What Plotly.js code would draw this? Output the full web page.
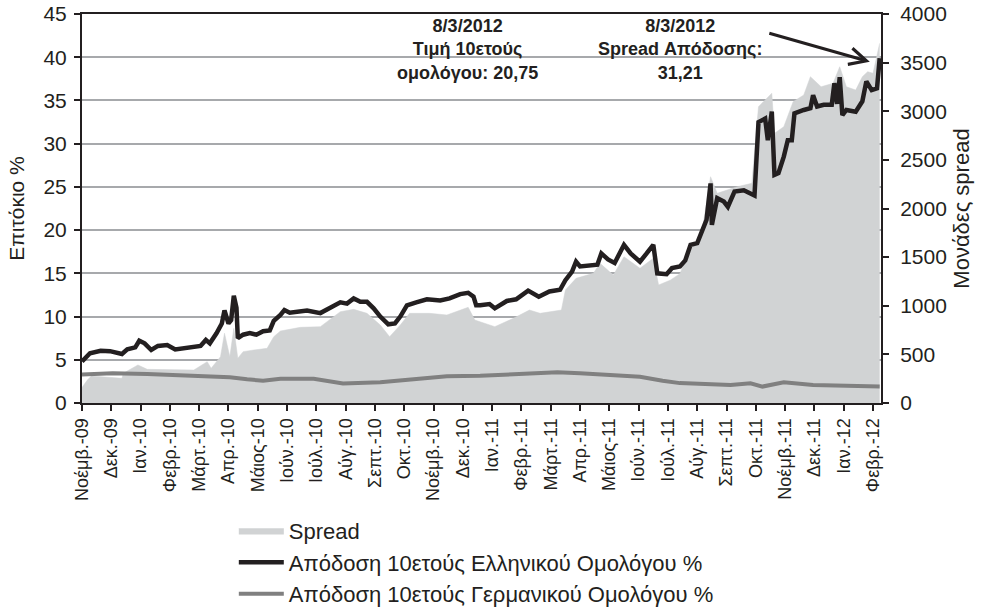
<!DOCTYPE html>
<html>
<head>
<meta charset="utf-8">
<script src="https://cdn.plot.ly/plotly-3.0.1.min.js"></script>
<style>html,body{margin:0;padding:0;background:#fff;}#chart{width:981px;height:609px;}</style>
</head>
<body>
<div id="chart"></div>
<script>
// x = trading-day observation number (category axis, a label every 22 observations)
const monthLabels = ['Νοέμβ.-09','Δεκ.-09','Ιαν.-10','Φεβρ.-10','Μάρτ.-10','Απρ.-10','Μάιος-10','Ιούν.-10','Ιούλ.-10','Αύγ.-10','Σεπτ.-10','Οκτ.-10','Νοέμβ.-10','Δεκ.-10','Ιαν.-11','Φεβρ.-11','Μάρτ.-11','Απρ.-11','Μάιος-11','Ιούν.-11','Ιούλ.-11','Αύγ.-11','Σεπτ.-11','Οκτ.-11','Νοέμβ.-11','Δεκ.-11','Ιαν.-12','Φεβρ.-12'];
const obsPerLabel = 22;
const obsTotal = 600;

// Spread (basis points, right axis)
const spreadObs = [0,4,7,14,24,30,31,42,49,61,71,84,94,97,104,107,111,114,117,121,129,139,144,149,164,179,194,204,214,224,231,239,246,261,274,284,290,295,299,310,324,336,344,360,363,371,384,389,399,407,419,429,433,442,449,457,465,472,477,492,503,508,518,520,527,534,542,547,555,564,569,574,581,586,590,594,599];
const spreadBp = [160,236,278,271,254,254,305,391,346,346,339,339,425,357,476,717,476,768,460,528,545,562,682,740,778,785,939,963,922,802,682,802,922,922,905,956,984,853,836,785,871,956,922,956,1162,1282,1333,1436,1316,1504,1385,1488,1213,1265,1330,1591,1710,2327,2156,2224,2259,3047,3185,2773,2841,3098,3167,3355,3252,3287,3458,3252,3218,3355,3407,3390,3699];

// Greek 10y yield %
const greekObs = [0,6,14,21,30,34,40,43,47,52,57,64,70,76,84,89,93,96,101,105,107,110,112,114,116,117,121,126,131,136,141,144,149,152,156,169,179,186,194,199,204,209,214,219,224,230,235,239,244,251,259,269,276,284,290,294,296,299,306,310,319,326,335,343,351,359,363,368,371,374,382,387,390,395,400,407,412,419,424,429,432,439,443,449,453,457,462,465,469,472,473,477,482,485,490,497,503,505,508,513,515,518,520,523,527,530,533,535,542,547,549,552,557,563,565,567,569,571,574,581,586,589,593,597,599];
const greekYield = [4.8,5.75,6.05,6.0,5.67,6.2,6.44,7.2,6.9,6.13,6.6,6.7,6.2,6.3,6.5,6.6,7.3,6.9,8.06,9.2,10.7,9.2,9.6,12.4,11.0,7.5,7.9,8.1,7.9,8.3,8.4,9.5,10.2,10.76,10.45,10.7,10.4,10.95,11.65,11.5,12.1,11.7,11.7,10.95,10.0,9.1,9.2,10.0,11.3,11.65,12.0,11.85,12.1,12.6,12.75,12.3,11.3,11.3,11.45,10.95,11.8,12.0,13.0,12.3,12.9,13.1,14.2,15.2,16.35,15.8,16.0,16.0,17.3,16.6,16.2,18.3,17.3,16.35,17.3,18.3,15.0,14.9,15.6,15.8,16.5,18.3,18.5,19.7,21.2,25.4,20.6,23.7,23.3,22.7,24.45,24.6,24.06,24.0,32.5,32.9,30.4,33.7,26.4,26.6,28.5,30.4,30.4,33.5,33.9,34.1,35.6,34.3,34.5,34.5,37.0,34.6,37.7,33.3,33.9,33.7,34.9,37.2,36.2,36.4,39.9];

// German 10y yield %
const germanObs = [0,23,49,74,98,111,124,136,149,174,196,224,249,274,299,324,357,374,399,419,436,449,487,502,511,527,549,575,599];
const germanYield = [3.3,3.45,3.35,3.24,3.12,2.97,2.74,2.58,2.8,2.8,2.25,2.4,2.74,3.1,3.15,3.35,3.55,3.43,3.16,3.04,2.58,2.3,2.08,2.27,1.9,2.4,2.08,1.97,1.9];

const FONT = 'Liberation Sans, Arial, Helvetica, sans-serif';
const INK = '#231f20';

const traces = [
  {x: spreadObs, y: spreadBp, name: 'Spread', type: 'scatter', mode: 'lines',
   fill: 'tozeroy', fillcolor: '#d1d3d4', line: {color: '#d1d3d4', width: 0.5}, yaxis: 'y'},
  {x: greekObs, y: greekYield, name: 'Απόδοση 10ετούς Ελληνικού Ομολόγου %', type: 'scatter', mode: 'lines',
   line: {color: INK, width: 4.5}, yaxis: 'y2'},
  {x: germanObs, y: germanYield, name: 'Απόδοση 10ετούς Γερμανικού Ομολόγου %', type: 'scatter', mode: 'lines',
   line: {color: '#808080', width: 4}, yaxis: 'y2'}
];

const layout = {
  width: 981, height: 609,
  margin: {l: 82, r: 100, t: 14, b: 206},
  paper_bgcolor: '#fff', plot_bgcolor: '#fff',
  font: {family: FONT, color: INK, size: 19},
  showlegend: true,
  legend: {x: 0.19, xanchor: 'left', yref: 'container', y: 0.163, yanchor: 'top', orientation: 'v',
           itemwidth: 45,
           font: {size: 22, family: FONT, color: INK}, bgcolor: 'rgba(0,0,0,0)', tracegroupgap: 0},
  xaxis: {range: [0, obsTotal], tickmode: 'array', automargin: false,
          tickvals: monthLabels.map((_, i) => i * obsPerLabel), ticktext: monthLabels,
          tickangle: -90, ticks: 'outside', ticklen: 6, tickwidth: 2, tickcolor: INK,
          showline: true, linecolor: INK, linewidth: 2, mirror: true, showgrid: false, zeroline: false,
          tickfont: {size: 18, family: FONT, color: INK}},
  yaxis: {range: [0, 4000], dtick: 500, side: 'right', automargin: false, ticks: 'outside', ticklen: 6, tickwidth: 2, tickcolor: INK,
          ticklabelstandoff: 7,
          showline: true, linecolor: INK, linewidth: 2, showgrid: false, zeroline: false,
          tickfont: {size: 21, family: FONT, color: INK},
          title: {text: 'Μονάδες spread', font: {size: 22, family: FONT, color: INK}, standoff: 8}},
  yaxis2: {range: [0, 45], dtick: 5, side: 'left', overlaying: 'y', automargin: false, ticks: 'outside', ticklen: 6, tickwidth: 2, tickcolor: INK,
           ticklabelstandoff: 3,
           showline: true, linecolor: INK, linewidth: 2, showgrid: true, gridcolor: '#a7a9ac', gridwidth: 2, zeroline: false,
           tickfont: {size: 21, family: FONT, color: INK},
           title: {text: 'Επιτόκιο %', font: {size: 21, family: FONT, color: INK}, standoff: 13}},
  annotations: [
    {xref: 'paper', yref: 'paper', x: 0.483, y: 1.0, xanchor: 'center', yanchor: 'top', showarrow: false,
     text: '<b>8/3/2012<br>Τιμή 10ετούς<br>ομολόγου: 20,75</b>', font: {size: 18, family: FONT, color: INK}, align: 'center'},
    {xref: 'paper', yref: 'paper', x: 0.748, y: 1.0, xanchor: 'center', yanchor: 'top', showarrow: false,
     text: '<b>8/3/2012<br>Spread Απόδοσης:<br>31,21</b>', font: {size: 18, family: FONT, color: INK}, align: 'center'},
    {xref: 'paper', yref: 'paper', x: 0.986, y: 0.877, ax: -102, ay: -29, text: '', showarrow: true,
     arrowhead: 5, arrowsize: 1.1, arrowwidth: 3, arrowcolor: INK}
  ]
};

Plotly.newPlot('chart', traces, layout, {displayModeBar: false, staticPlot: true});
</script>
</body>
</html>
